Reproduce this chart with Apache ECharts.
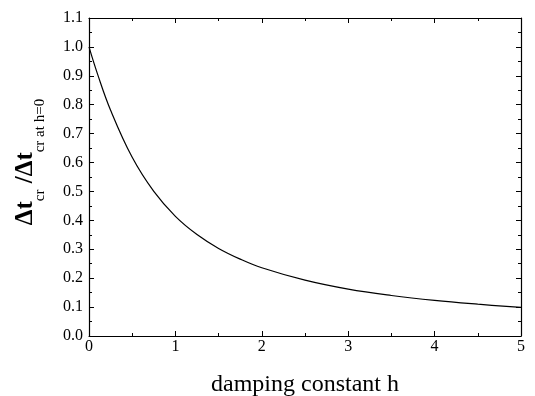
<!DOCTYPE html>
<html>
<head>
<meta charset="utf-8">
<script src="https://cdn.jsdelivr.net/npm/echarts@6/dist/echarts.min.js"></script>
<style>
  html, body { margin: 0; padding: 0; background: #fff; }
  #chart { width: 535px; height: 396px; }
</style>
</head>
<body>
<div id="chart"></div>
<script>
// Damping constant h and normalised critical time step
const hValues = [0, 0.1, 0.25, 0.5, 0.75, 1, 1.25, 1.5, 1.75, 2, 2.5, 3, 3.5, 4, 4.5, 5];
const ratioValues = [1.0, 0.905, 0.781, 0.618, 0.5, 0.414, 0.351, 0.303, 0.266, 0.236, 0.193, 0.162, 0.140, 0.123, 0.110, 0.099];

const FONT = '"Liberation Serif", "DejaVu Serif", serif';

const tickStyle = { color: '#000', width: 1 };
const axisBase = {
  axisLine: { show: true, onZero: false, lineStyle: { color: '#000', width: 1.2 } },
  axisTick: { show: true, inside: true, length: 5, lineStyle: tickStyle },
  minorTick: { show: true, splitNumber: 2, length: 3, lineStyle: tickStyle },
  splitLine: { show: false }
};

const chart = echarts.init(document.getElementById('chart'));
chart.setOption({
  backgroundColor: '#fff',
  animation: false,
  grid: { left: 89, right: 14, top: 18, bottom: 60, containLabel: false, outerBoundsMode: 'none' },
  xAxis: [
    Object.assign({}, axisBase, {
      type: 'value', min: 0, max: 5, interval: 1, position: 'bottom',
      axisLabel: { color: '#000', fontFamily: FONT, fontSize: 16, margin: 3 },
      name: 'damping constant h', nameLocation: 'middle', nameGap: 37,
      nameTextStyle: { color: '#000', fontFamily: FONT, fontSize: 24 }
    }),
    Object.assign({}, axisBase, {
      type: 'value', min: 0, max: 5, interval: 1, position: 'top',
      axisLabel: { show: false }
    })
  ],
  yAxis: [
    Object.assign({}, axisBase, {
      type: 'value', min: 0, max: 1.1, interval: 0.1, position: 'left',
      axisLabel: {
        color: '#000', fontFamily: FONT, fontSize: 16, margin: 6,
        formatter: v => v.toFixed(1)
      },
      name: '{b|Δt}{s|cr}{b| /Δt}{s|cr at h=0}',
      nameLocation: 'middle', nameGap: 51, nameRotate: 90,
      nameTextStyle: {
        color: '#000', fontFamily: FONT, padding: [0, 0, 0, 30],
        rich: {
          b: { fontFamily: FONT, fontSize: 25, fontWeight: 'bold', color: '#000', verticalAlign: 'bottom', lineHeight: 28 },
          s: { fontFamily: FONT, fontSize: 15, color: '#000', verticalAlign: 'bottom', lineHeight: 28, padding: [0, 0, -10, 0] }
        }
      }
    }),
    Object.assign({}, axisBase, {
      type: 'value', min: 0, max: 1.1, interval: 0.1, position: 'right',
      axisLabel: { show: false }
    })
  ],
  series: [{
    type: 'line',
    xAxisIndex: 0, yAxisIndex: 0,
    data: hValues.map((h, i) => [h, ratioValues[i]]),
    smooth: 0.4,
    showSymbol: false,
    lineStyle: { color: '#000', width: 1.2 }
  }]
});
</script>
</body>
</html>
